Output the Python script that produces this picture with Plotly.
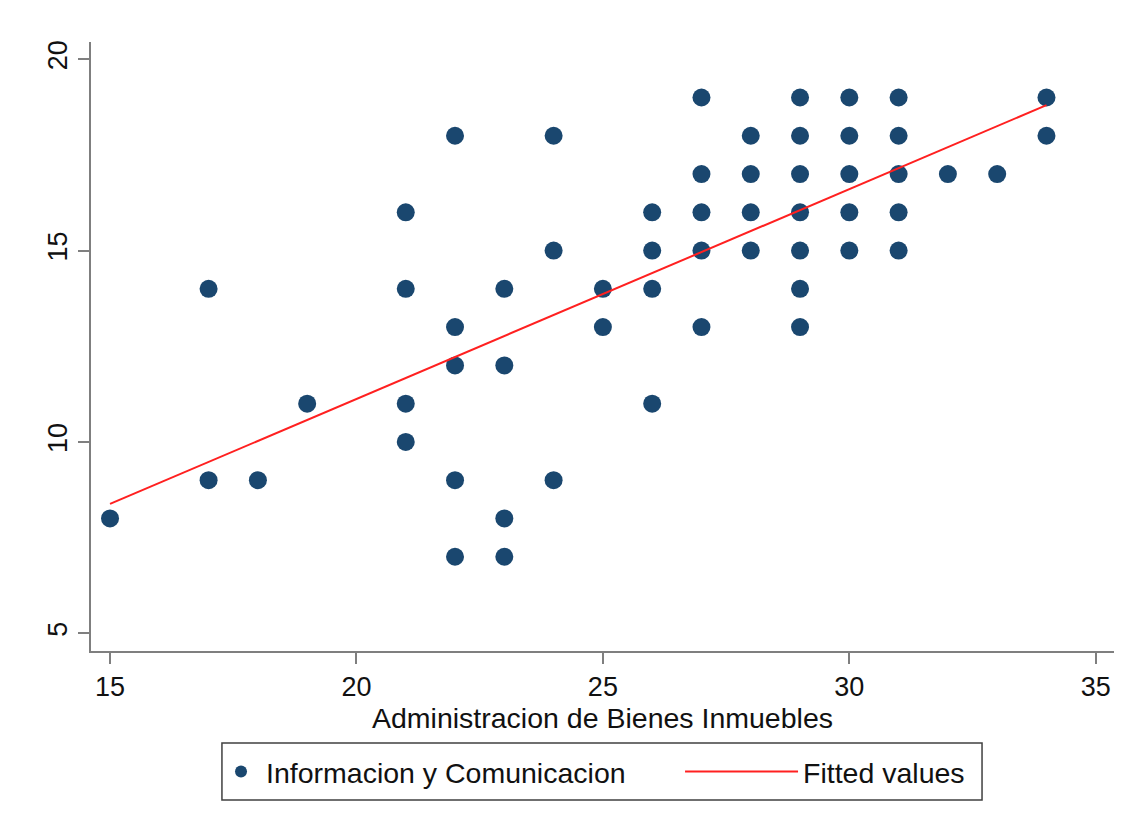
import plotly.graph_objects as go

# Scatter data (Administracion de Bienes Inmuebles vs Informacion y Comunicacion)
x_vals = [15,
          17, 17,
          18,
          19,
          21, 21, 21, 21,
          22, 22, 22, 22, 22,
          23, 23, 23, 23,
          24, 24, 24,
          25, 25,
          26, 26, 26, 26,
          27, 27, 27, 27, 27,
          28, 28, 28, 28,
          29, 29, 29, 29, 29, 29, 29,
          30, 30, 30, 30, 30,
          31, 31, 31, 31, 31,
          32,
          33,
          34, 34]
y_vals = [8,
          14, 9,
          9,
          11,
          16, 14, 11, 10,
          18, 13, 12, 9, 7,
          14, 12, 8, 7,
          18, 15, 9,
          14, 13,
          16, 15, 14, 11,
          19, 17, 16, 15, 13,
          18, 17, 16, 15,
          19, 18, 17, 16, 15, 14, 13,
          19, 18, 17, 16, 15,
          19, 18, 17, 16, 15,
          17,
          17,
          19, 18]

# Fitted line
fit_x = [15, 34]
fit_y = [8.38, 18.8]

x_ticks = [15, 20, 25, 30, 35]
y_ticks = [5, 10, 15, 20]

AXIS_GRAY = "#7f7f7f"
FONT = "Liberation Sans, Arial, sans-serif"
TXT = "#111111"

fig = go.Figure()
fig.add_trace(go.Scatter(
    x=x_vals, y=y_vals, mode="markers",
    name="Informacion y Comunicacion",
    marker=dict(color="#1a476f", size=18, line=dict(width=0)),
    legend="legend",
))
fig.add_trace(go.Scatter(
    x=fit_x, y=fit_y, mode="lines",
    name="Fitted values",
    line=dict(color="#ff2020", width=2),
    legend="legend2",
))

fig.update_layout(
    width=1131, height=829,
    paper_bgcolor="white", plot_bgcolor="white",
    margin=dict(l=91, r=17, t=42, b=178),
    font=dict(family=FONT, color=TXT, size=28),
    showlegend=True,
    legend=dict(
        orientation="h",
        x=0.1222, xanchor="left",
        y=-0.1987, yanchor="middle",
        borderwidth=0, bgcolor="rgba(0,0,0,0)",
        font=dict(size=28.5, family=FONT, color=TXT),
        itemsizing="constant",
        itemwidth=40,
    ),
    legend2=dict(
        orientation="h",
        x=0.5758, xanchor="left",
        y=-0.1987, yanchor="middle",
        borderwidth=0, bgcolor="rgba(0,0,0,0)",
        font=dict(size=28.5, family=FONT, color=TXT),
        itemwidth=113,
    ),
    shapes=[dict(
        type="rect", xref="paper", yref="paper",
        x0=0.128, x1=0.871, y0=-0.2447, y1=-0.151,
        line=dict(color="#404040", width=1.5),
        fillcolor="rgba(0,0,0,0)", layer="below",
    )],
    xaxis=dict(
        range=[14.614, 35.37],
        tickvals=x_ticks, ticktext=[str(v) for v in x_ticks],
        showgrid=False, zeroline=False,
        showline=True, linecolor=AXIS_GRAY, linewidth=2,
        ticks="outside", ticklen=11, tickwidth=2, tickcolor=AXIS_GRAY,
        tickfont=dict(size=27, family=FONT, color=TXT),
        title=dict(text="Administracion de Bienes Inmuebles", standoff=0,
                   font=dict(size=28.5, family=FONT, color=TXT)),
    ),
    yaxis=dict(
        range=[4.537, 20.45],
        tickvals=y_ticks, ticktext=[str(v) for v in y_ticks],
        showgrid=False, zeroline=False,
        showline=True, linecolor=AXIS_GRAY, linewidth=2,
        ticks="outside", ticklen=11, tickwidth=2, tickcolor=AXIS_GRAY,
        tickangle=-90,
        tickfont=dict(size=27, family=FONT, color=TXT),
    ),
)

fig.write_html("out.html")
